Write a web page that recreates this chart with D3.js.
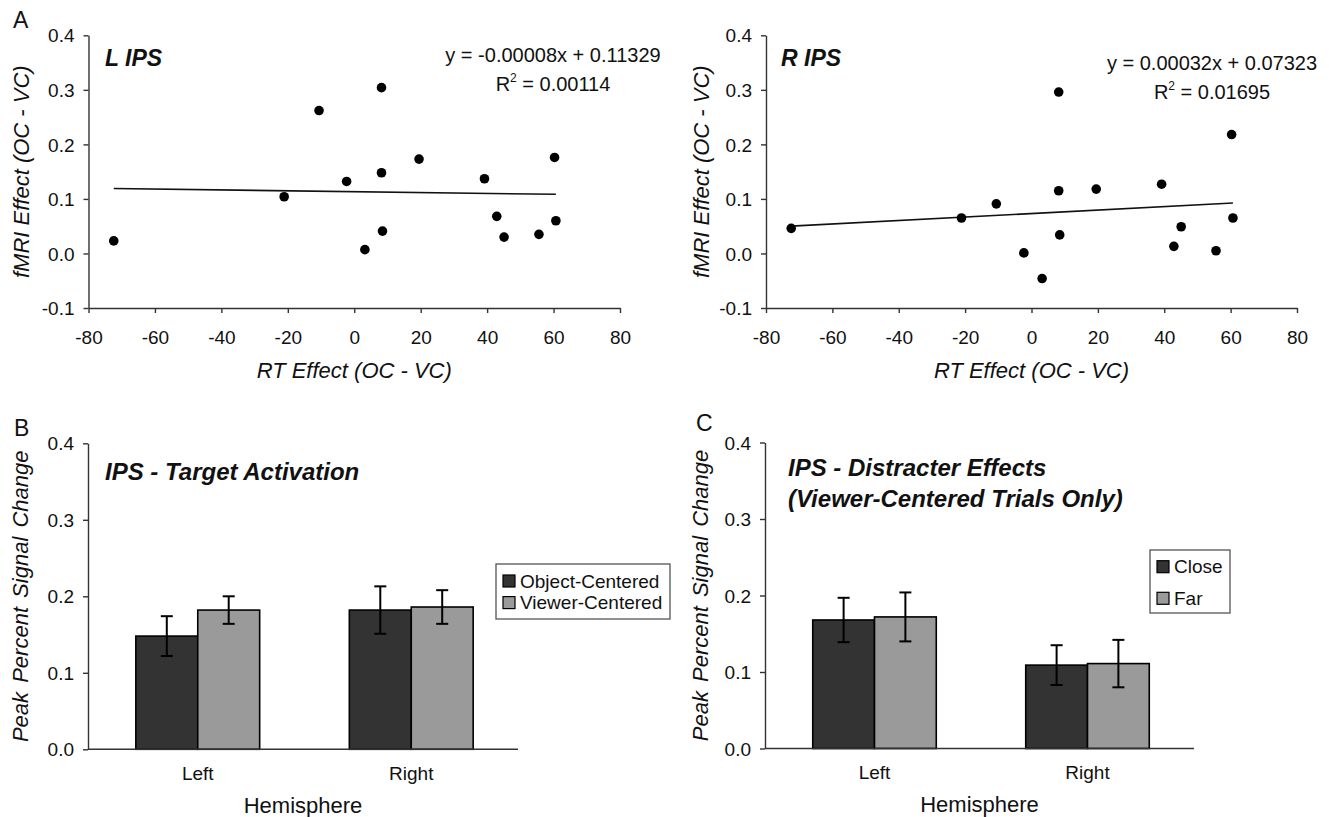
<!DOCTYPE html>
<html>
<head>
<meta charset="utf-8">
<script src="https://cdn.jsdelivr.net/npm/d3@7"></script>
<style>
  html, body { margin: 0; padding: 0; background: #fff; }
  svg { display: block; font-family: "Liberation Sans", Arial, Helvetica, sans-serif; }
  text { fill: #111; }
</style>
</head>
<body>
<svg id="chart" width="1329" height="817"></svg>
<script>
// ---------------- DATA ----------------
// Panel A: scatter (same subjects in both hemispheres)
const rtEffect   = [-72.4, -21.1, -10.6, -2.3, 3.2, 8.2, 8.2, 8.5, 19.5, 39.2, 42.9, 45.1, 55.6, 60.3, 60.7];
const lipsEffect = [0.023, 0.104, 0.262, 0.132, 0.007, 0.304, 0.148, 0.041, 0.173, 0.137, 0.068, 0.030, 0.035, 0.176, 0.060];
const ripsEffect = [0.046, 0.065, 0.091, 0.001, -0.046, 0.296, 0.115, 0.034, 0.118, 0.127, 0.013, 0.049, 0.005, 0.218, 0.065];
const lipsFit = { slope: -0.00008, intercept: 0.11329, r2: "0.00114", eq: "y = -0.00008x + 0.11329" };
const ripsFit = { slope: 0.00032, intercept: 0.07323, r2: "0.01695", eq: "y = 0.00032x + 0.07323" };
const scatterXTicks = [-80, -60, -40, -20, 0, 20, 40, 60, 80];
const scatterYTicks = [-0.1, 0.0, 0.1, 0.2, 0.3, 0.4];

// Panels B and C: bars
const hemispheres = ["Left", "Right"];
const barYTicks = [0.0, 0.1, 0.2, 0.3, 0.4];
const targetSeries = ["Object-Centered", "Viewer-Centered"];
const objectCenteredMean = [0.148, 0.182];
const objectCenteredErr  = [0.026, 0.031];
const viewerCenteredMean = [0.182, 0.186];
const viewerCenteredErr  = [0.018, 0.022];
const distracterSeries = ["Close", "Far"];
const closeMean = [0.168, 0.109];
const closeErr  = [0.029, 0.026];
const farMean   = [0.172, 0.111];
const farErr    = [0.032, 0.031];

const seriesColors = ["#333333", "#9a9a9a"];

// ---------------- DRAWING ----------------
const svg = d3.select("#chart");
const fmt1 = d => d.toFixed(1);

function panelLetter(letter, x, y) {
  svg.append("text").attr("x", x).attr("y", y).attr("dy", "0.35em")
    .attr("font-size", 23).text(letter);
}

function scatterPanel(cfg) {
  const x = d3.scaleLinear().domain([-80, 80]).range([cfg.x0, cfg.x1]);
  const y = d3.scaleLinear().domain([-0.1, 0.4]).range([cfg.yBottom, cfg.yTop]);
  const g = svg.append("g");

  const xAxis = g.append("g").attr("transform", `translate(0,${cfg.yBottom})`)
    .call(d3.axisBottom(x).tickValues(scatterXTicks).tickFormat(d => String(d)).tickSize(5).tickSizeOuter(0));
  xAxis.selectAll("text").attr("y", 29).attr("dy", "0.35em").attr("font-size", 19);
  const yAxis = g.append("g").attr("transform", `translate(${cfg.x0},0)`)
    .call(d3.axisLeft(y).tickValues(scatterYTicks).tickFormat(fmt1).tickSize(5).tickSizeOuter(0));
  yAxis.selectAll("text").attr("x", -14).attr("dy", "0.35em").attr("font-size", 19);
  g.selectAll(".domain, .tick line").attr("stroke", "#333").attr("stroke-width", 1.4);
  g.selectAll(".tick text").attr("fill", "#111").attr("font-family", null);

  // axis titles
  g.append("text").attr("x", (cfg.x0 + cfg.x1) / 2).attr("y", cfg.yBottom + 62).attr("dy", "0.35em")
    .attr("text-anchor", "middle").attr("font-size", 22).attr("font-style", "italic")
    .text("RT Effect (OC - VC)");
  g.append("text")
    .attr("transform", `translate(${cfg.x0 + cfg.yTitleOff},${(cfg.yTop + cfg.yBottom) / 2}) rotate(-90)`)
    .attr("dy", "0.35em").attr("text-anchor", "middle").attr("font-size", 22).attr("font-style", "italic")
    .text("fMRI Effect (OC - VC)");

  // panel title
  g.append("text").attr("x", cfg.titleX).attr("y", 58).attr("dy", "0.35em")
    .attr("font-size", 23).attr("font-weight", "bold").attr("font-style", "italic").text(cfg.title);

  // fit line
  const xs = d3.extent(cfg.xs);
  g.append("line")
    .attr("x1", x(xs[0])).attr("y1", y(cfg.fit.slope * xs[0] + cfg.fit.intercept))
    .attr("x2", x(xs[1])).attr("y2", y(cfg.fit.slope * xs[1] + cfg.fit.intercept))
    .attr("stroke", "#111").attr("stroke-width", 1.6);

  // points
  g.selectAll("circle.pt").data(cfg.xs.map((v, i) => [v, cfg.ys[i]])).join("circle")
    .attr("class", "pt").attr("cx", d => x(d[0])).attr("cy", d => y(d[1])).attr("r", 4.8)
    .attr("fill", "#000");

  // equation + R^2
  g.append("text").attr("x", cfg.eqX).attr("y", cfg.eqY).attr("dy", "0.35em")
    .attr("text-anchor", "middle").attr("font-size", 20).text(cfg.fit.eq);
  const r2 = g.append("text").attr("x", cfg.eqX).attr("y", cfg.eqY + 28.5).attr("dy", "0.35em")
    .attr("text-anchor", "middle").attr("font-size", 20);
  r2.append("tspan").text("R");
  r2.append("tspan").attr("font-size", 12).attr("dy", "-0.75em").text("2");
  r2.append("tspan").attr("dy", "0.45em").text(" = " + cfg.fit.r2);
}

function barPanel(cfg) {
  const x0 = d3.scaleBand().domain(hemispheres).range([cfg.x0 + 3, cfg.x1]).paddingInner(0).paddingOuter(0);
  const x1 = d3.scaleBand().domain(cfg.series)
    .range([x0.bandwidth() * 0.21, x0.bandwidth() * 0.79]).padding(0);
  const y = d3.scaleLinear().domain([0, 0.4]).range([cfg.yBottom, cfg.yTop]);
  const g = svg.append("g");

  const yAxis = g.append("g").attr("transform", `translate(${cfg.x0},0)`)
    .call(d3.axisLeft(y).tickValues(barYTicks).tickFormat(fmt1).tickSize(5).tickSizeOuter(0));
  yAxis.selectAll("text").attr("x", -14).attr("dy", "0.35em").attr("font-size", 19);
  yAxis.selectAll(".domain, .tick line").attr("stroke", "#333").attr("stroke-width", 1.4);
  yAxis.selectAll(".tick text").attr("fill", "#111");

  // bars
  const rows = [];
  cfg.series.forEach((s, si) => {
    hemispheres.forEach((h, hi) => {
      rows.push({ s, si, h, v: cfg.means[si][hi], e: cfg.errs[si][hi] });
    });
  });
  g.selectAll("rect.bar").data(rows).join("rect").attr("class", "bar")
    .attr("x", d => x0(d.h) + x1(d.s)).attr("width", x1.bandwidth())
    .attr("y", d => y(d.v)).attr("height", d => y(0) - y(d.v))
    .attr("fill", d => seriesColors[d.si]).attr("stroke", "#000").attr("stroke-width", 1.6);

  // x axis line (drawn over bars)
  const xAxis = g.append("g").attr("transform", `translate(0,${cfg.yBottom})`)
    .call(d3.axisBottom(x0).tickSize(0).tickSizeOuter(0));
  xAxis.select(".domain").attr("d", `M${cfg.x0},0H${cfg.x1}`).attr("stroke", "#333").attr("stroke-width", 1.4);
  xAxis.selectAll("text").attr("y", 24).attr("dy", "0.35em").attr("font-size", 19).attr("fill", "#111");

  // error bars
  const cap = 6;
  const eb = g.selectAll("g.err").data(rows).join("g").attr("class", "err")
    .attr("transform", d => `translate(${x0(d.h) + x1(d.s) + x1.bandwidth() / 2},0)`);
  eb.append("line").attr("y1", d => y(d.v + d.e)).attr("y2", d => y(d.v - d.e));
  eb.append("line").attr("x1", -cap).attr("x2", cap).attr("y1", d => y(d.v + d.e)).attr("y2", d => y(d.v + d.e));
  eb.append("line").attr("x1", -cap).attr("x2", cap).attr("y1", d => y(d.v - d.e)).attr("y2", d => y(d.v - d.e));
  eb.selectAll("line").attr("stroke", "#000").attr("stroke-width", 2);

  // titles
  g.append("text").attr("x", (cfg.x0 + cfg.x1) / 2).attr("y", cfg.yBottom + 56).attr("dy", "0.35em")
    .attr("text-anchor", "middle").attr("font-size", 22).text("Hemisphere");
  g.append("text")
    .attr("transform", `translate(${cfg.x0 + cfg.yTitleOff},${(cfg.yTop + cfg.yBottom) / 2}) rotate(-90)`)
    .attr("dy", "0.35em").attr("text-anchor", "middle").attr("font-size", 22).attr("font-style", "italic")
    .attr("word-spacing", 3)
    .text("Peak Percent Signal Change");
  cfg.title.forEach((t, i) => {
    g.append("text").attr("x", cfg.titleX).attr("y", cfg.titleY + i * 31).attr("dy", "0.35em")
      .attr("font-size", 24).attr("font-weight", "bold").attr("font-style", "italic").text(t);
  });

  // legend
  const L = cfg.legend;
  g.append("rect").attr("x", L.x).attr("y", L.y).attr("width", L.w).attr("height", L.h)
    .attr("fill", "#fff").attr("stroke", "#555").attr("stroke-width", 1.3);
  cfg.series.forEach((s, i) => {
    const cy = L.y + L.first + i * L.step;
    g.append("rect").attr("x", L.x + 7).attr("y", cy - 6).attr("width", 12).attr("height", 12)
      .attr("fill", seriesColors[i]).attr("stroke", "#000").attr("stroke-width", 1.2);
    g.append("text").attr("x", L.x + 24).attr("y", cy).attr("dy", "0.35em")
      .attr("font-size", 19).text(s);
  });
}

panelLetter("A", 13, 20);
panelLetter("B", 14, 428);
panelLetter("C", 696, 423);

scatterPanel({ x0: 88.5, x1: 620, yTop: 35.3, yBottom: 308, xs: rtEffect, ys: lipsEffect, fit: lipsFit,
  title: "L IPS", titleX: 105, eqX: 553, eqY: 55, yTitleOff: -67 });
scatterPanel({ x0: 766, x1: 1297, yTop: 35.3, yBottom: 308, xs: rtEffect, ys: ripsEffect, fit: ripsFit,
  title: "R IPS", titleX: 781, eqX: 1212, eqY: 63, yTitleOff: -65 });

barPanel({ x0: 88, x1: 518, yTop: 443.3, yBottom: 749.3, series: targetSeries,
  means: [objectCenteredMean, viewerCenteredMean], errs: [objectCenteredErr, viewerCenteredErr],
  title: ["IPS - Target Activation"], titleX: 105, titleY: 472, yTitleOff: -68,
  legend: { x: 496, y: 564, w: 174, h: 55, first: 17, step: 21.6 } });
barPanel({ x0: 765, x1: 1194, yTop: 442.5, yBottom: 748.5, series: distracterSeries,
  means: [closeMean, farMean], errs: [closeErr, farErr],
  title: ["IPS - Distracter Effects", "(Viewer-Centered Trials Only)"], titleX: 788, titleY: 467.3, yTitleOff: -65,
  legend: { x: 1150, y: 550, w: 80, h: 63, first: 16.7, step: 31.6 } });
</script>
</body>
</html>
